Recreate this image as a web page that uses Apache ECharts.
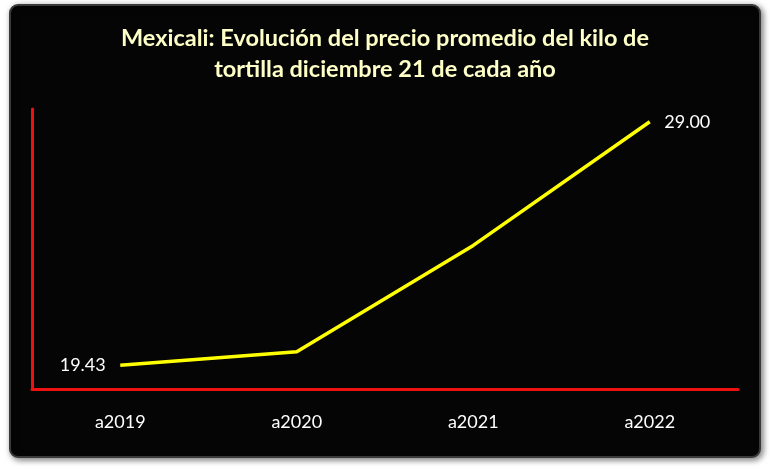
<!DOCTYPE html>
<html>
<head>
<meta charset="utf-8">
<script src="https://cdn.jsdelivr.net/npm/echarts@6/dist/echarts.min.js"></script>
<style>
html,body{margin:0;padding:0;background:#ffffff;}
#c{width:770px;height:470px;}
</style>
</head>
<body>
<div id="c"></div>
<script>
var titleText = 'Mexicali: Evolución del precio promedio del kilo de\ntortilla diciembre 21 de cada año';
var categories = ['a2019', 'a2020', 'a2021', 'a2022'];
var prices = [19.43, 19.96, 24.14, 29.00];
var labelledIndex = [0, 3];

var chart = echarts.init(document.getElementById('c'));
var fontFam = 'Lato, "Open Sans", sans-serif';

var seriesData = prices.map(function (v, i) {
  var show = labelledIndex.indexOf(i) >= 0;
  return {
    value: v,
    label: {
      show: show,
      position: i === 0 ? 'left' : 'right',
      distance: 14
    }
  };
});

chart.setOption({
  backgroundColor: 'transparent',
  animation: false,
  graphic: [{
    type: 'rect',
    z: -10,
    shape: { x: 10, y: 5, width: 750, height: 452, r: 8 },
    style: {
      fill: '#050505',
      stroke: '#3a3a3a',
      lineWidth: 2,
      shadowBlur: 6,
      shadowColor: 'rgba(0,0,0,0.5)',
      shadowOffsetX: 2,
      shadowOffsetY: 2
    }
  }],
  title: {
    text: titleText,
    left: 'center',
    top: 18,
    textStyle: {
      color: '#ffffc8',
      fontSize: 23.5,
      fontWeight: 'bold',
      fontFamily: fontFam,
      lineHeight: 31
    }
  },
  grid: { left: 32, top: 109, width: 706, height: 280, containLabel: false },
  xAxis: {
    type: 'category',
    data: categories,
    boundaryGap: true,
    axisLine: { show: true, lineStyle: { color: '#ee1111', width: 3 } },
    axisTick: { show: false },
    axisLabel: { color: '#ffffff', fontSize: 18, fontFamily: fontFam, margin: 24 },
    splitLine: { show: false }
  },
  yAxis: {
    type: 'value',
    min: 18.5,
    max: 29.5,
    axisLine: { show: true, lineStyle: { color: '#ee1111', width: 3 } },
    axisTick: { show: false },
    axisLabel: { show: false },
    splitLine: { show: false }
  },
  series: [{
    type: 'line',
    data: seriesData,
    symbol: 'circle',
    symbolSize: 1,
    showSymbol: true,
    itemStyle: { color: 'rgba(0,0,0,0)' },
    lineStyle: { color: '#ffff00', width: 3.5 },
    label: {
      show: false,
      color: '#ffffff',
      fontSize: 18,
      fontFamily: fontFam,
      formatter: function (p) { return Number(p.value).toFixed(2); }
    }
  }]
});
</script>
</body>
</html>
